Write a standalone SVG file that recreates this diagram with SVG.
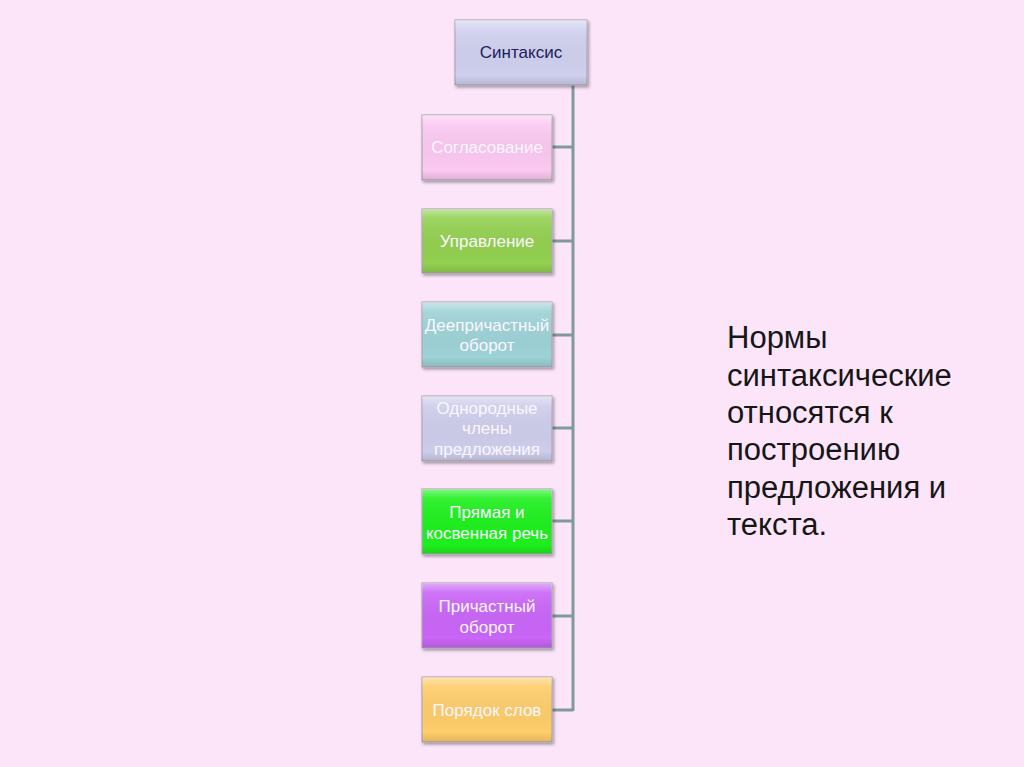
<svg xmlns="http://www.w3.org/2000/svg" width="1024" height="767" viewBox="0 0 1024 767">
<defs>
<linearGradient id="shine" x1="0" y1="0" x2="0" y2="1">
<stop offset="0" stop-color="#fff" stop-opacity="0.45"/>
<stop offset="0.15" stop-color="#fff" stop-opacity="0.1"/>
<stop offset="0.85" stop-color="#000" stop-opacity="0"/>
<stop offset="1" stop-color="#000" stop-opacity="0.12"/>
</linearGradient>
<filter id="sh" x="-10%" y="-10%" width="125%" height="130%">
<feDropShadow dx="1.5" dy="2" stdDeviation="1.5" flood-color="#000" flood-opacity="0.35"/>
</filter>
</defs>
<style>
.box{stroke:#b0a8b8;stroke-width:1.2;filter:url(#sh)}
.gl{fill:url(#shine);stroke:none}
.t{font-family:"Liberation Sans",Arial,sans-serif;font-size:17px;fill:#fbf6ff;text-anchor:middle}
.conn{stroke:#7f9a9c;stroke-width:3;fill:none}
.main{font-family:"Liberation Sans",Arial,sans-serif;font-size:31px;fill:#161616}
</style>
<rect width="1024" height="767" fill="#fce5f9"/>
<g id="connectors">
<path class="conn" d="M573 85 V711"/>
<path class="conn" d="M552 147 H573 M552 241 H573 M552 335 H573 M552 428 H573 M552 521 H573 M552 616 H573 M552 710 H573"/>
</g>
<g id="n-root">
<rect class="box" x="455" y="20" width="132" height="65" fill="#cfd0ee"/>
<rect class="gl" x="455" y="20" width="132" height="65"/>
<text class="t" x="521" y="58" style="fill:#20205a">Синтаксис</text>
</g>
<g id="n1">
<rect class="box" x="422" y="115" width="130" height="65" fill="#fbc8f1"/>
<rect class="gl" x="422" y="115" width="130" height="65"/>
<text class="t" x="487" y="153">Согласование</text>
</g>
<g id="n2">
<rect class="box" x="422" y="209" width="130" height="64" fill="#92d050"/>
<rect class="gl" x="422" y="209" width="130" height="64"/>
<text class="t" x="487" y="247">Управление</text>
</g>
<g id="n3">
<rect class="box" x="422" y="302" width="130" height="65" fill="#9dd2d6"/>
<rect class="gl" x="422" y="302" width="130" height="65"/>
<text class="t" x="487" y="331">Деепричастный</text>
<text class="t" x="487" y="351">оборот</text>
</g>
<g id="n4">
<rect class="box" x="422" y="396" width="130" height="65" fill="#cdcdeb"/>
<rect class="gl" x="422" y="396" width="130" height="65"/>
<text class="t" x="487" y="414">Однородные</text>
<text class="t" x="487" y="434">члены</text>
<text class="t" x="487" y="455">предложения</text>
</g>
<g id="n5">
<rect class="box" x="422" y="489" width="130" height="65" fill="#1ef01e"/>
<rect class="gl" x="422" y="489" width="130" height="65"/>
<text class="t" x="487" y="518">Прямая и</text>
<text class="t" x="487" y="539">косвенная речь</text>
</g>
<g id="n6">
<rect class="box" x="422" y="583" width="130" height="65" fill="#c965f7"/>
<rect class="gl" x="422" y="583" width="130" height="65"/>
<text class="t" x="487" y="612">Причастный</text>
<text class="t" x="487" y="633">оборот</text>
</g>
<g id="n7">
<rect class="box" x="422" y="677" width="130" height="65" fill="#fecd6a"/>
<rect class="gl" x="422" y="677" width="130" height="65"/>
<text class="t" x="487" y="716">Порядок слов</text>
</g>
<g id="caption">
<text class="main" x="727" y="348">Нормы</text>
<text class="main" x="727" y="386">синтаксические</text>
<text class="main" x="727" y="423">относятся к</text>
<text class="main" x="727" y="460">построению</text>
<text class="main" x="727" y="498">предложения и</text>
<text class="main" x="727" y="535">текста.</text>
</g>
</svg>
